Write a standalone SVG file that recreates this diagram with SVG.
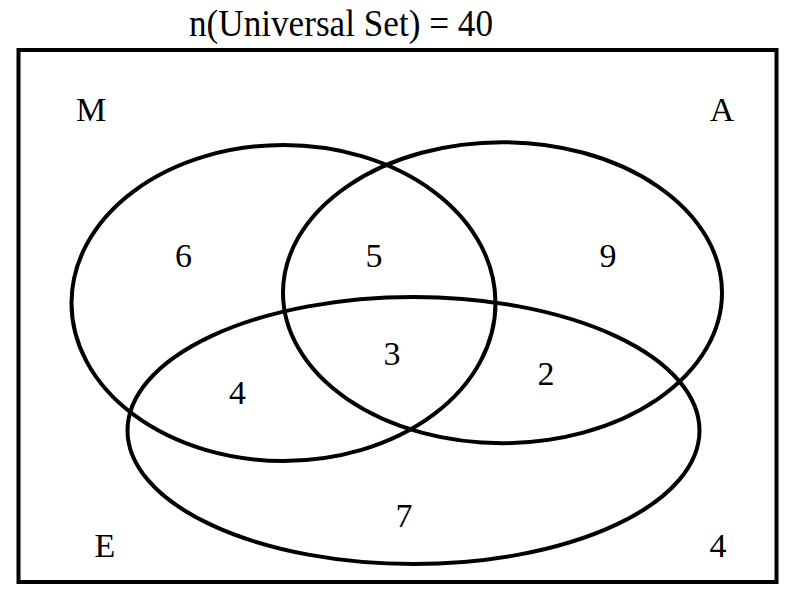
<svg xmlns="http://www.w3.org/2000/svg" width="792" height="600" viewBox="0 0 792 600">
<style>
.shape{fill:none;stroke:#000;stroke-width:4}
text{font-family:'Liberation Serif','Times New Roman',serif;font-size:34px;fill:#000;text-anchor:middle}
.title{font-size:37px;text-anchor:start}
</style>
<rect x="0" y="0" width="792" height="600" fill="#fff"/>
<g id="title">
<text class="title" x="189" y="36" textLength="304" lengthAdjust="spacingAndGlyphs">n(Universal Set) = 40</text>
</g>
<g id="universe"><rect class="shape" x="18.5" y="50" width="758" height="532"/></g>
<g id="set-M"><ellipse class="shape" cx="283.5" cy="303" rx="212" ry="158"/><text x="91" y="121">M</text></g>
<g id="set-A"><ellipse class="shape" cx="502.5" cy="292.7" rx="219.5" ry="150.5"/><text x="722" y="121">A</text></g>
<g id="set-E"><ellipse class="shape" cx="413.5" cy="430.5" rx="286" ry="133.5"/><text x="105" y="557">E</text></g>
<g id="regions">
<text x="183.5" y="267">6</text>
<text x="374" y="267">5</text>
<text x="608" y="267">9</text>
<text x="392" y="365">3</text>
<text x="546" y="385">2</text>
<text x="237.5" y="404">4</text>
<text x="404" y="527">7</text>
<text x="718" y="557">4</text>
</g>
<g id="connectors"></g>
</svg>
